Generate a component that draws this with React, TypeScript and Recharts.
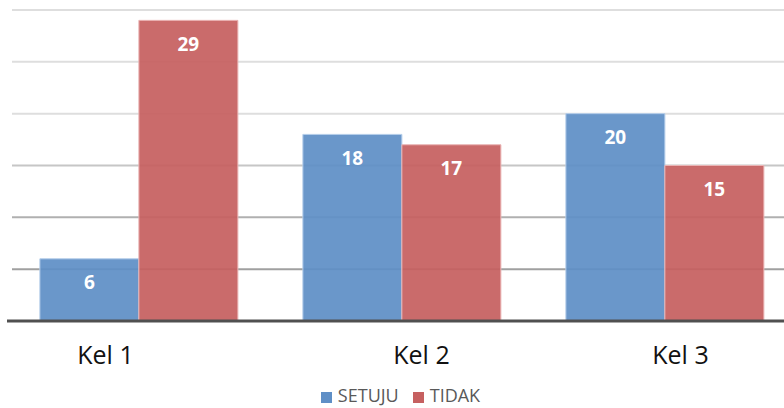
import { BarChart, Bar, XAxis, YAxis, CartesianGrid, Legend, LabelList } from 'recharts';

const groups = ['Kel 1', 'Kel 2', 'Kel 3'];
const setuju = [6, 18, 20];
const tidak = [29, 17, 15];
const yTicks = [0, 5, 10, 15, 20, 25, 30];

const data = groups.map((name, i) => ({ name, SETUJU: setuju[i], TIDAK: tidak[i] }));

// the labels in the original sit a little off the group centres
const labelShift = [-33, 20, 16];

const KelTick = (props: any) => {
    const { x, y, payload, index } = props;
    return (
        <text x={x + (labelShift[index] || 0)} y={y + 43} textAnchor="middle"
            fontFamily="Open Sans" fontSize={25} fill="#111">
            {payload.value}
        </text>
    );
};

const gridLine = (props: any) => {
    const { x1, y1, x2, y2 } = props;
    let stroke = '#a0a0a0';
    if (y1 < 150) stroke = '#dedede';
    else if (y1 < 200) stroke = '#c6c6c6';
    else if (y1 < 250) stroke = '#b0b0b0';
    return <line key={'g' + y1} x1={x1 + 5} y1={y1} x2={x2} y2={y2} stroke={stroke} strokeWidth={2} />;
};

export default function App() {
    return (
        <div style={{ position: 'fixed', left: 0, top: 0, width: 784, height: 408, overflow: 'hidden', background: '#fff' }}>
            <BarChart width={800} height={408} data={data}
                margin={{ top: 10, right: 4, left: 7, bottom: 0 }}
                barCategoryGap="12.5%" barGap={0}>
                <CartesianGrid vertical={false} horizontal={gridLine} />
                <XAxis dataKey="name" axisLine={{ stroke: '#505050', strokeWidth: 3 }}
                    tickLine={false} tickSize={0} tickMargin={0} height={56}
                    tick={<KelTick />} interval={0} />
                <YAxis hide domain={[0, 30]} ticks={yTicks} />
                <Legend verticalAlign="bottom" align="center" iconType="square" iconSize={11}
                    wrapperStyle={{ height: 31, paddingTop: 6, boxSizing: 'border-box', lineHeight: '24px',
                        fontFamily: 'Open Sans', fontSize: 18, marginLeft: 6 }}
                    formatter={(v: string) => (
                        <span style={{ color: '#595959', fontSize: 18, marginLeft: 2, paddingRight: 4 }}>{v}</span>
                    )} />
                <Bar dataKey="SETUJU" fill="#5f8fc6" fillOpacity={0.93} stroke="#b4cdea" strokeWidth={1}
                    isAnimationActive={false}>
                    <LabelList dataKey="SETUJU" position="insideTop" offset={17}
                        fill="#fff" fontFamily="Open Sans" fontWeight="bold" fontSize={19} />
                </Bar>
                <Bar dataKey="TIDAK" fill="#c66060" fillOpacity={0.93} stroke="#eab4b4" strokeWidth={1}
                    isAnimationActive={false}>
                    <LabelList dataKey="TIDAK" position="insideTop" offset={17}
                        fill="#fff" fontFamily="Open Sans" fontWeight="bold" fontSize={19} />
                </Bar>
            </BarChart>
        </div>
    );
}
